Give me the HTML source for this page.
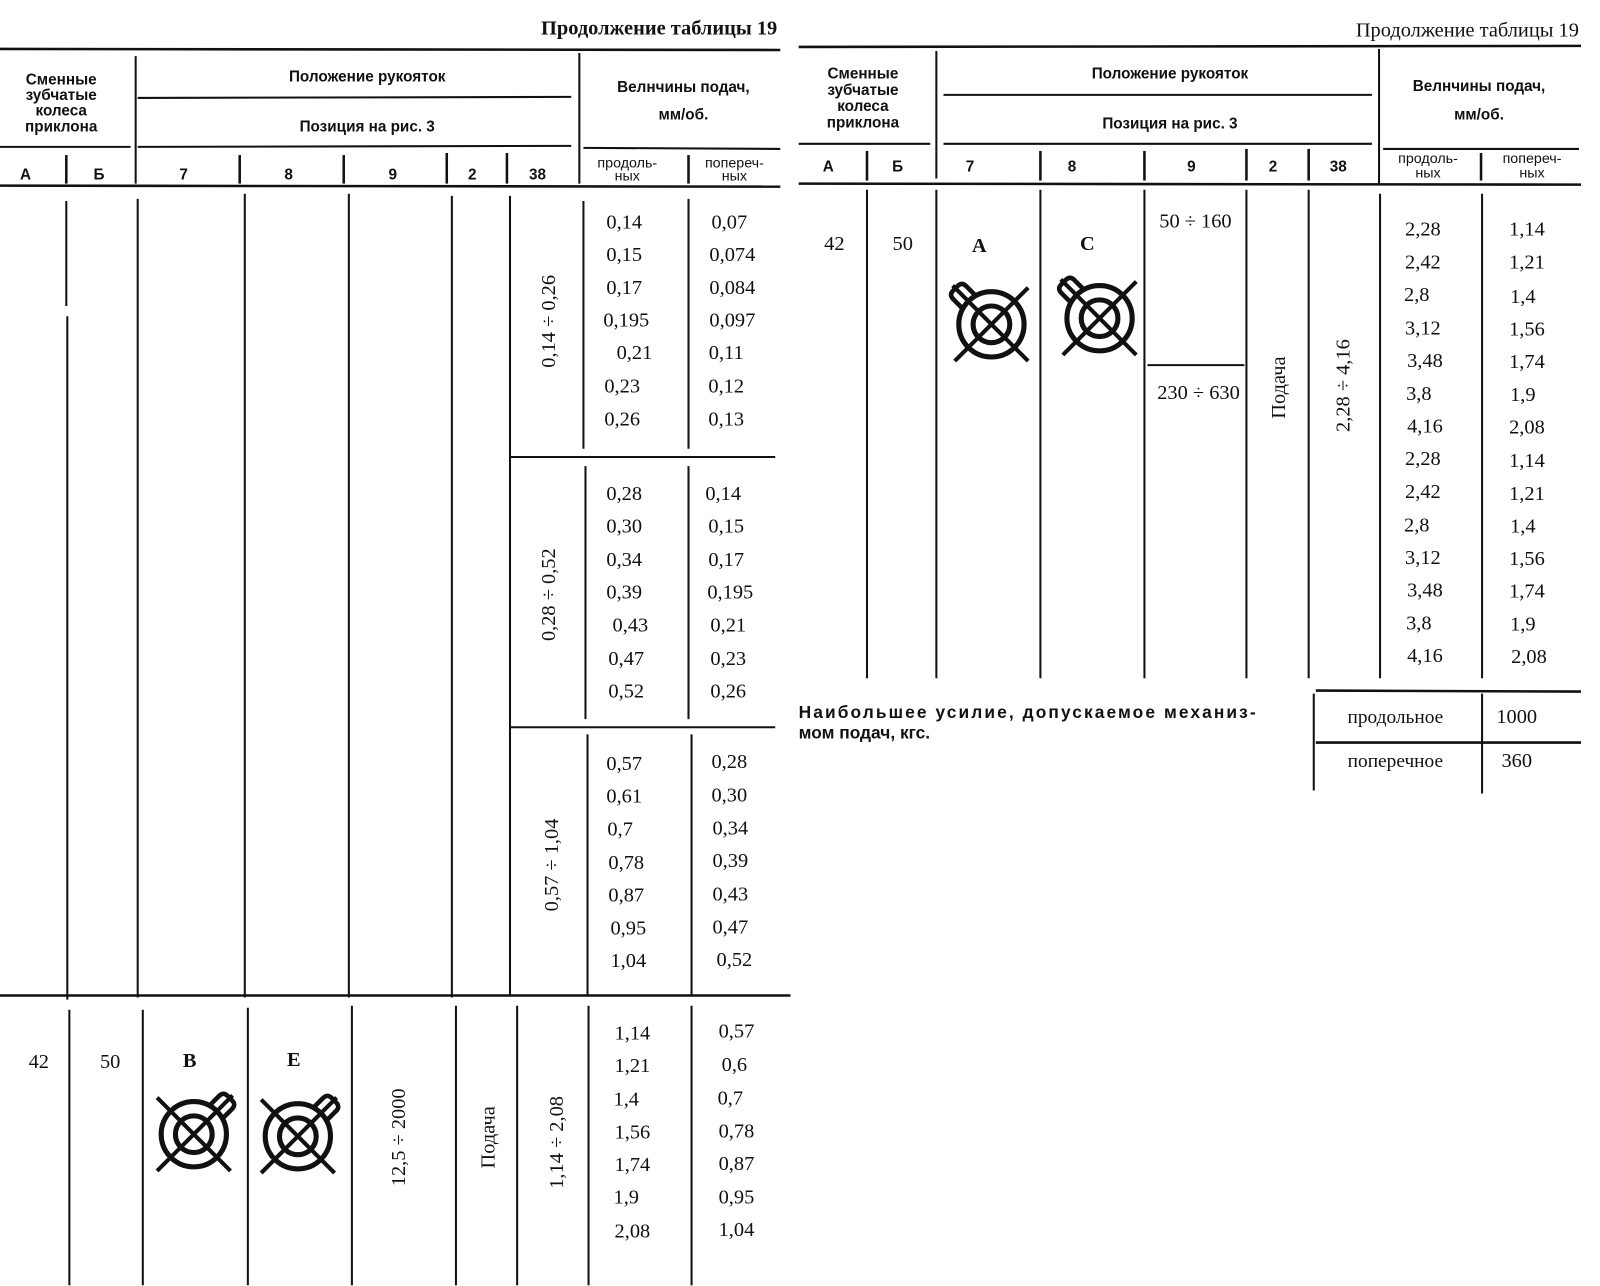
<!DOCTYPE html>
<html><head><meta charset="utf-8"><style>
html,body{margin:0;padding:0;background:#fff;}
svg{display:block}
text{font-family:"Liberation Serif",serif;fill:#111;}
.h{font-family:"Liberation Sans",sans-serif;font-weight:bold;font-size:15px;}
.n{font-size:20px;}
</style></head><body>
<svg width="1600" height="1286" viewBox="0 0 1600 1286" xmlns="http://www.w3.org/2000/svg">
<defs>
<g id="sym" fill="none" stroke="#111" stroke-width="5">
<circle cx="0" cy="0" r="32"/>
<circle cx="0" cy="0" r="18"/>
<line x1="-36" y1="-36" x2="36" y2="36" stroke-width="4"/>
<line x1="-36" y1="36" x2="38" y2="-38" stroke-width="4"/>
<g transform="rotate(45)">
<path d="M-9,-30 L-9,-44 Q-9,-50 -3,-50 L3,-50 Q9,-50 9,-44 L9,-30" stroke-width="4.5"/>
</g>
</g>
</defs>
<g transform="scale(1.02)" stroke="#111">
<!-- LEFT TABLE -->
<text x="762" y="34" text-anchor="end" stroke="none" style="font-weight:bold;font-size:20px">Продолжение таблицы 19</text>
<line x1="0" y1="48" x2="765" y2="49" stroke-width="2.5"/>
<line x1="133" y1="55" x2="133" y2="180" stroke-width="2"/>
<line x1="568" y1="52" x2="568" y2="180" stroke-width="2"/>
<g stroke="none" text-anchor="middle">
<text class="h" x="60" y="83">Сменные</text>
<text class="h" x="60" y="98">зубчатые</text>
<text class="h" x="60" y="113">колеса</text>
<text class="h" x="60" y="129">приклона</text>
<text class="h" x="360" y="80">Положение рукояток</text>
<text class="h" x="360" y="129">Позиция на рис. 3</text>
<text class="h" x="670" y="90">Велнчины подач,</text>
<text class="h" x="670" y="117">мм/об.</text>
<text class="h" x="25" y="176">А</text><text class="h" x="97" y="176">Б</text>
<text class="h" x="180" y="176">7</text><text class="h" x="283" y="176">8</text>
<text class="h" x="385" y="176">9</text><text class="h" x="463" y="176">2</text>
<text class="h" x="527" y="176">38</text>
<text class="h" x="615" y="164" style="font-weight:normal;font-size:14px">продоль-</text>
<text class="h" x="615" y="177" style="font-weight:normal;font-size:14px">ных</text>
<text class="h" x="720" y="164" style="font-weight:normal;font-size:14px">попереч-</text>
<text class="h" x="720" y="177" style="font-weight:normal;font-size:14px">ных</text>
</g>
<line x1="135" y1="96" x2="560" y2="95" stroke-width="2"/>
<line x1="0" y1="144" x2="128" y2="144" stroke-width="2"/>
<line x1="135" y1="144" x2="560" y2="143" stroke-width="2"/>
<line x1="572" y1="145" x2="765" y2="146" stroke-width="2"/>
<g stroke-width="2.5">
<line x1="65" y1="152" x2="65" y2="180"/><line x1="235" y1="152" x2="235" y2="180"/>
<line x1="337" y1="152" x2="337" y2="180"/><line x1="438" y1="150" x2="438" y2="180"/>
<line x1="497" y1="150" x2="497" y2="180"/><line x1="675" y1="152" x2="675" y2="180"/>
</g>
<line x1="0" y1="182" x2="765" y2="183" stroke-width="2.5"/>
<g stroke-width="2">
<line x1="65" y1="197" x2="65" y2="300"/><line x1="66" y1="310" x2="66" y2="980"/>
<line x1="135" y1="195" x2="135" y2="978"/>
<line x1="240" y1="190" x2="240" y2="978"/>
<line x1="342" y1="190" x2="342" y2="978"/>
<line x1="443" y1="192" x2="443" y2="978"/>
<line x1="500" y1="192" x2="500" y2="975"/>
<line x1="572" y1="197" x2="572" y2="440"/><line x1="574" y1="457" x2="574" y2="705"/><line x1="576" y1="720" x2="576" y2="975"/>
<line x1="675" y1="195" x2="675" y2="440"/><line x1="675" y1="457" x2="675" y2="705"/><line x1="678" y1="720" x2="678" y2="975"/>
<line x1="500" y1="448" x2="760" y2="448"/>
<line x1="500" y1="713" x2="760" y2="713"/>
</g>
<line x1="0" y1="976" x2="775" y2="976" stroke-width="2.5"/>
<g stroke-width="2">
<line x1="68" y1="990" x2="68" y2="1260"/><line x1="140" y1="990" x2="140" y2="1260"/>
<line x1="243" y1="988" x2="243" y2="1260"/><line x1="345" y1="986" x2="345" y2="1260"/>
<line x1="447" y1="986" x2="447" y2="1260"/><line x1="507" y1="986" x2="507" y2="1260"/>
<line x1="577" y1="986" x2="577" y2="1260"/><line x1="678" y1="986" x2="678" y2="1260"/>
</g>
<g stroke="none" class="n" text-anchor="middle" font-size="20">
<text class="n" x="537" y="315" transform="rotate(-90 537 315)" dy="7">0,14 ÷ 0,26</text>
<text class="n" x="537" y="583" transform="rotate(-90 537 583)" dy="7">0,28 ÷ 0,52</text>
<text class="n" x="540" y="848" transform="rotate(-90 540 848)" dy="7">0,57 ÷ 1,04</text>
<text class="n" x="390" y="1115" transform="rotate(-90 390 1115)" dy="7">12,5 ÷ 2000</text>
<text class="n" x="478" y="1115" transform="rotate(-90 478 1115)" dy="7">Подача</text>
<text class="n" x="545" y="1120" transform="rotate(-90 545 1120)" dy="7">1,14 ÷ 2,08</text>
<text class="n" x="612" y="224">0,14</text><text class="n" x="715" y="224">0,07</text>
<text class="n" x="612" y="256">0,15</text><text class="n" x="718" y="256">0,074</text>
<text class="n" x="612" y="288">0,17</text><text class="n" x="718" y="288">0,084</text>
<text class="n" x="614" y="320">0,195</text><text class="n" x="718" y="320">0,097</text>
<text class="n" x="622" y="352">0,21</text><text class="n" x="712" y="352">0,11</text>
<text class="n" x="610" y="385">0,23</text><text class="n" x="712" y="385">0,12</text>
<text class="n" x="610" y="417">0,26</text><text class="n" x="712" y="417">0,13</text>
<text class="n" x="612" y="490">0,28</text><text class="n" x="709" y="490">0,14</text>
<text class="n" x="612" y="522">0,30</text><text class="n" x="712" y="522">0,15</text>
<text class="n" x="612" y="555">0,34</text><text class="n" x="712" y="555">0,17</text>
<text class="n" x="612" y="587">0,39</text><text class="n" x="716" y="587">0,195</text>
<text class="n" x="618" y="619">0,43</text><text class="n" x="714" y="619">0,21</text>
<text class="n" x="614" y="652">0,47</text><text class="n" x="714" y="652">0,23</text>
<text class="n" x="614" y="684">0,52</text><text class="n" x="714" y="684">0,26</text>
<text class="n" x="612" y="755">0,57</text><text class="n" x="715" y="753">0,28</text>
<text class="n" x="612" y="787">0,61</text><text class="n" x="715" y="786">0,30</text>
<text class="n" x="608" y="819">0,7</text><text class="n" x="716" y="818">0,34</text>
<text class="n" x="614" y="852">0,78</text><text class="n" x="716" y="850">0,39</text>
<text class="n" x="614" y="884">0,87</text><text class="n" x="716" y="883">0,43</text>
<text class="n" x="616" y="916">0,95</text><text class="n" x="716" y="915">0,47</text>
<text class="n" x="616" y="948">1,04</text><text class="n" x="720" y="947">0,52</text>
<text class="n" x="620" y="1019">1,14</text><text class="n" x="722" y="1017">0,57</text>
<text class="n" x="620" y="1051">1,21</text><text class="n" x="720" y="1050">0,6</text>
<text class="n" x="614" y="1084">1,4</text><text class="n" x="716" y="1083">0,7</text>
<text class="n" x="620" y="1116">1,56</text><text class="n" x="722" y="1115">0,78</text>
<text class="n" x="620" y="1148">1,74</text><text class="n" x="722" y="1147">0,87</text>
<text class="n" x="614" y="1180">1,9</text><text class="n" x="722" y="1180">0,95</text>
<text class="n" x="620" y="1213">2,08</text><text class="n" x="722" y="1212">1,04</text>
<text class="n" x="38" y="1047">42</text><text class="n" x="108" y="1047">50</text>
<text class="n" x="186" y="1046" font-weight="bold">В</text><text class="n" x="288" y="1045" font-weight="bold">Е</text>
</g>
<use href="#sym" x="190" y="1112"/>
<use href="#sym" x="292" y="1114"/>

<!-- RIGHT TABLE -->
<text x="1548" y="36" text-anchor="end" stroke="none" style="font-size:20px">Продолжение таблицы 19</text>
<line x1="783" y1="46" x2="1550" y2="45" stroke-width="2.5"/>
<line x1="918" y1="50" x2="918" y2="175" stroke-width="2"/>
<line x1="1352" y1="48" x2="1352" y2="180" stroke-width="2"/>
<g stroke="none" text-anchor="middle">
<text class="h" x="846" y="77">Сменные</text>
<text class="h" x="846" y="93">зубчатые</text>
<text class="h" x="846" y="109">колеса</text>
<text class="h" x="846" y="125">приклона</text>
<text class="h" x="1147" y="77">Положение рукояток</text>
<text class="h" x="1147" y="126">Позиция на рис. 3</text>
<text class="h" x="1450" y="89">Велнчины подач,</text>
<text class="h" x="1450" y="117">мм/об.</text>
<text class="h" x="812" y="168">А</text><text class="h" x="880" y="168">Б</text>
<text class="h" x="951" y="168">7</text><text class="h" x="1051" y="168">8</text>
<text class="h" x="1168" y="168">9</text><text class="h" x="1248" y="168">2</text>
<text class="h" x="1312" y="168">38</text>
<text class="h" x="1400" y="160" style="font-weight:normal;font-size:14px">продоль-</text>
<text class="h" x="1400" y="174" style="font-weight:normal;font-size:14px">ных</text>
<text class="h" x="1502" y="160" style="font-weight:normal;font-size:14px">попереч-</text>
<text class="h" x="1502" y="174" style="font-weight:normal;font-size:14px">ных</text>
</g>
<line x1="925" y1="93" x2="1345" y2="93" stroke-width="2"/>
<line x1="783" y1="141" x2="912" y2="141" stroke-width="2"/>
<line x1="925" y1="141" x2="1345" y2="141" stroke-width="2"/>
<line x1="1356" y1="146" x2="1548" y2="146" stroke-width="2"/>
<g stroke-width="2.5">
<line x1="850" y1="148" x2="850" y2="177"/><line x1="1020" y1="148" x2="1020" y2="177"/>
<line x1="1122" y1="148" x2="1122" y2="177"/><line x1="1222" y1="146" x2="1222" y2="177"/>
<line x1="1283" y1="146" x2="1283" y2="177"/><line x1="1452" y1="150" x2="1452" y2="177"/>
</g>
<line x1="783" y1="180" x2="1550" y2="181" stroke-width="2.5"/>
<g stroke-width="2">
<line x1="850" y1="186" x2="850" y2="665"/><line x1="918" y1="186" x2="918" y2="665"/>
<line x1="1020" y1="186" x2="1020" y2="665"/><line x1="1122" y1="186" x2="1122" y2="665"/>
<line x1="1222" y1="186" x2="1222" y2="665"/><line x1="1283" y1="186" x2="1283" y2="665"/>
<line x1="1353" y1="190" x2="1353" y2="665"/><line x1="1453" y1="190" x2="1453" y2="665"/>
<line x1="1125" y1="358" x2="1220" y2="358"/>
</g>
<line x1="1290" y1="677" x2="1550" y2="678" stroke-width="2.5"/>
<line x1="1290" y1="728" x2="1550" y2="728" stroke-width="2.5"/>
<line x1="1288" y1="680" x2="1288" y2="775" stroke-width="2"/>
<line x1="1453" y1="680" x2="1453" y2="778" stroke-width="2"/>
<g stroke="none" text-anchor="middle">
<text class="n" x="1253" y="380" transform="rotate(-90 1253 380)" dy="7">Подача</text>
<text class="n" x="1316" y="378" transform="rotate(-90 1316 378)" dy="7">2,28 ÷ 4,16</text>
<text class="n" x="1172" y="223">50 ÷ 160</text>
<text class="n" x="1175" y="391">230 ÷ 630</text>
<text class="n" x="818" y="245">42</text><text class="n" x="885" y="245">50</text>
<text class="n" x="960" y="247" font-weight="bold">А</text><text class="n" x="1066" y="245" font-weight="bold">С</text>
<text class="n" x="1395" y="231">2,28</text><text class="n" x="1497" y="231">1,14</text>
<text class="n" x="1395" y="263">2,42</text><text class="n" x="1497" y="263">1,21</text>
<text class="n" x="1389" y="295">2,8</text><text class="n" x="1493" y="297">1,4</text>
<text class="n" x="1395" y="328">3,12</text><text class="n" x="1497" y="329">1,56</text>
<text class="n" x="1397" y="360">3,48</text><text class="n" x="1497" y="361">1,74</text>
<text class="n" x="1391" y="392">3,8</text><text class="n" x="1493" y="393">1,9</text>
<text class="n" x="1397" y="424">4,16</text><text class="n" x="1497" y="425">2,08</text>
<text class="n" x="1395" y="456">2,28</text><text class="n" x="1497" y="458">1,14</text>
<text class="n" x="1395" y="488">2,42</text><text class="n" x="1497" y="490">1,21</text>
<text class="n" x="1389" y="521">2,8</text><text class="n" x="1493" y="522">1,4</text>
<text class="n" x="1395" y="553">3,12</text><text class="n" x="1497" y="554">1,56</text>
<text class="n" x="1397" y="585">3,48</text><text class="n" x="1497" y="586">1,74</text>
<text class="n" x="1391" y="617">3,8</text><text class="n" x="1493" y="618">1,9</text>
<text class="n" x="1397" y="649">4,16</text><text class="n" x="1499" y="650">2,08</text>
<text class="n" x="1368" y="709" style="font-size:19px">продольное</text>
<text class="n" x="1368" y="752" style="font-size:19px">поперечное</text>
<text class="n" x="1487" y="709">1000</text>
<text class="n" x="1487" y="752">360</text>
</g>
<text x="783" y="704" stroke="none" textLength="448" lengthAdjust="spacing" style="font-family:'Liberation Sans',sans-serif;font-weight:bold;font-size:17px">Наибольшее усилие, допускаемое механиз-</text>
<text x="783" y="724" stroke="none" style="font-family:'Liberation Sans',sans-serif;font-weight:bold;font-size:17px">мом подач, кгс.</text>
<use href="#sym" transform="translate(972,318) scale(-1,1)"/>
<use href="#sym" transform="translate(1078,312) scale(-1,1)"/>
</g>
</svg>
</body></html>
